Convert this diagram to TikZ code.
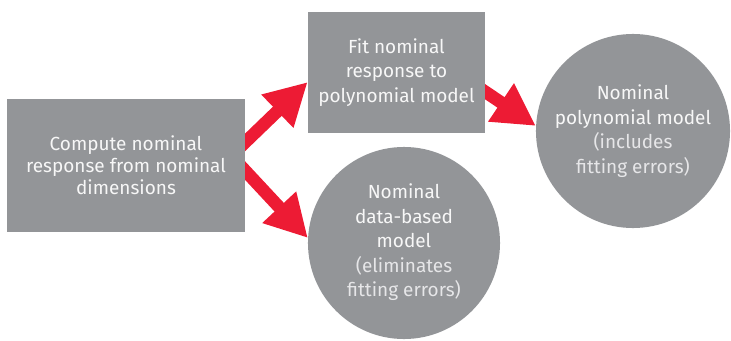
\documentclass[tikz,border=0pt]{standalone}
\usepackage{fontspec}
\setmainfont{Fira Sans}
\usepackage{tikz}
\usetikzlibrary{arrows.meta,positioning,backgrounds}
\usepackage{xcolor}

\definecolor{boxgray}{HTML}{939598}
\definecolor{arrowred}{HTML}{ED1B34}
\definecolor{textwhite}{HTML}{F7F7F7}
\definecolor{textlight}{HTML}{E6E6E8}

\begin{document}
\begin{tikzpicture}[x=0.025cm,y=-0.025cm]
	\useasboundingbox (0,0) rectangle (731,341);
	\begin{scope}[every node/.style={fill=boxgray,text=textwhite,align=center,font=\fontsize{13.5}{17.5}\selectfont,inner sep=0pt}]
		\node[rectangle,minimum width=5.95cm,minimum height=3.33cm,font=\fontsize{13.5}{15.5}\selectfont] (A) at (126,165.5) {Compute nominal\\ response from nominal\\ dimensions};
		\node[rectangle,minimum width=4.43cm,minimum height=3.03cm] (B) at (396.5,72.5) {Fit nominal\\ response to\\ polynomial model};
		\node[circle,minimum size=4.8cm] (C) at (404,243) {\\[-8pt]Nominal\\ data-based\\ model\\ \textcolor{textlight}{(eliminates}\\ \textcolor{textlight}{fitting errors)}};
		\node[circle,minimum size=4.85cm] (D) at (633,131) {Nominal\\ polynomial model\\ \textcolor{textlight}{(includes}\\ \textcolor{textlight}{fitting errors)}};
	\end{scope}

	\begin{scope}[on background layer]
	\draw[-{Triangle[length=1.05cm,width=1.08cm]},line width=9pt,arrowred] ([shift={(-0.18cm,0.41cm)}]A.east) -- ([yshift=-0.24cm]B.west);
	\draw[-{Triangle[length=1.05cm,width=1.08cm]},line width=9pt,arrowred] ([shift={(-0.18cm,0.06cm)}]A.east) -- (C.177);
	\draw[-{Triangle[length=1.05cm,width=1.08cm]},line width=9pt,arrowred] ([shift={(-0.2cm,-0.35cm)}]B.east) -- (D.177);
	\end{scope}
\end{tikzpicture}
\end{document}
